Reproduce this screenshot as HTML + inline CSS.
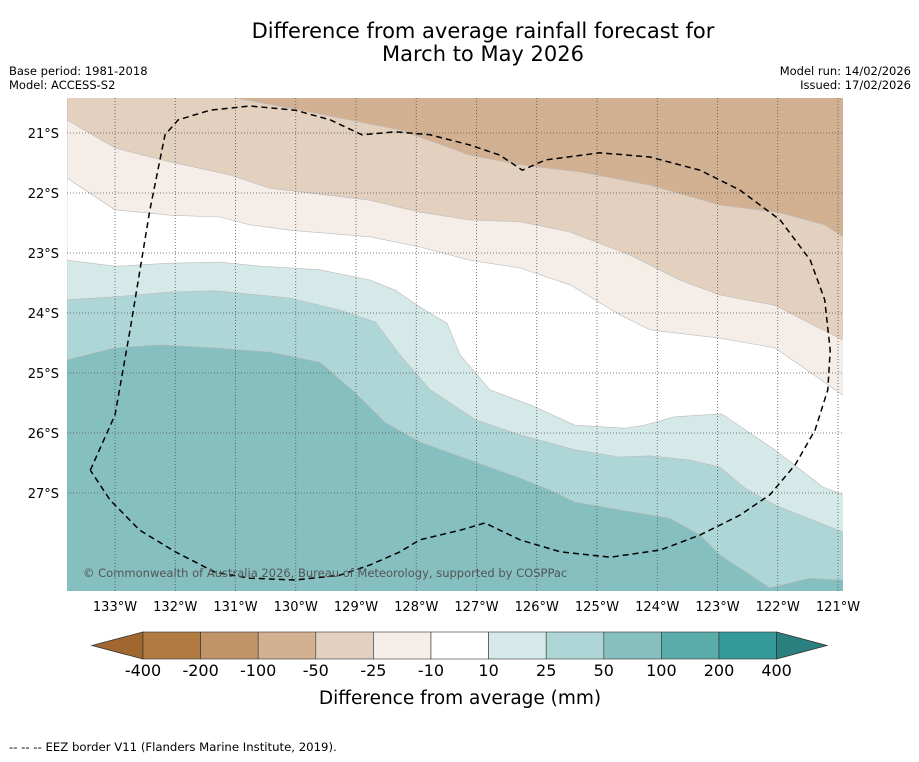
<!DOCTYPE html>
<html><head><meta charset="utf-8"><style>
body{margin:0;background:#fff;width:919px;height:758px;overflow:hidden;font-family:"DejaVu Sans",sans-serif}
</style></head><body>
<svg width="919" height="758" id="chart" font-family="DejaVu Sans, sans-serif">
<text x="483" y="38" text-anchor="middle" font-size="21">Difference from average rainfall forecast for</text>
<text x="483" y="61" text-anchor="middle" font-size="21">March to May 2026</text>
<text x="9" y="75" font-size="11.5">Base period: 1981-2018</text>
<text x="9" y="89" font-size="11.5">Model: ACCESS-S2</text>
<text x="911" y="75" font-size="11.5" text-anchor="end">Model run: 14/02/2026</text>
<text x="911" y="89" font-size="11.5" text-anchor="end">Issued: 17/02/2026</text>
<defs><clipPath id="mapclip"><rect x="67" y="98" width="776" height="493"/></clipPath></defs>
<g id="map" clip-path="url(#mapclip)"></g>
<g id="axes"></g>
<text x="83" y="577" font-size="11.5" fill="#555">© Commonwealth of Australia 2026, Bureau of Meteorology, supported by COSPPac</text>
<g id="cbar"></g>
<text x="460" y="704" text-anchor="middle" font-size="18.5">Difference from average (mm)</text>
<text x="9" y="751" font-size="11.7">--  --  -- EEZ border V11 (Flanders Marine Institute, 2019).</text>
</svg>
<script>
const lonTicks=[133,132,131,130,129,128,127,126,125,124,123,122,121];
const latTicks=[21,22,23,24,25,26,27];
const levels=[-400,-200,-100,-50,-25,-10,10,25,50,100,200,400];
const bandColors=['#b07a40','#c09467','#d2b092','#e3d0bf','#f5ede8','#ffffff','#d5e9e8','#afd6d6','#85bfbf','#5aacab','#35999a'];
// contour boundaries (lon °W, lat °S)
const b1Lon=[130.98,129.93,128.27,127.11,126.28,125.28,124.12,122.96,121.96,121.22,120.92];
const b1Lat=[20.42,20.62,20.95,21.37,21.53,21.65,21.87,22.20,22.33,22.53,22.73];
const b2Lon=[133.80,133,132.09,131.09,130.43,128.77,127.94,127.11,126.28,125.45,124.46,123.63,122.96,122.05,120.92];
const b2Lat=[20.78,21.25,21.48,21.70,21.92,22.12,22.32,22.45,22.48,22.65,23.03,23.45,23.70,23.87,24.45];
const b3Lon=[133.80,133,132.09,131.26,130.76,130.10,128.77,127.94,127.11,126.28,125.45,124.62,124.12,122.96,122.05,121.63,120.92];
const b3Lat=[21.75,22.28,22.37,22.40,22.53,22.62,22.73,22.90,23.12,23.25,23.53,24.03,24.28,24.42,24.58,24.87,25.37];
const b4Lon=[133.80,133,132.09,131.26,130.59,129.60,128.77,128.35,127.94,127.49,127.27,126.78,126.11,125.37,124.54,124.21,123.71,122.93,122.05,121.25,120.92];
const b4Lat=[23.12,23.22,23.17,23.15,23.22,23.28,23.45,23.62,23.90,24.17,24.70,25.28,25.53,25.87,25.92,25.87,25.73,25.68,26.28,26.90,27.03];
const b5Lon=[133.80,133,132.09,131.34,130.10,129.27,128.68,128.27,127.77,127.02,126.28,125.37,124.62,124.12,123.46,122.96,122.54,122.05,120.92];
const b5Lat=[23.78,23.73,23.65,23.63,23.75,23.95,24.15,24.70,25.28,25.78,26.03,26.28,26.40,26.38,26.45,26.57,26.92,27.20,27.65];
const b6Lon=[133.80,133,132.25,131.34,130.43,129.60,129.02,128.52,127.94,127.11,126.28,125.78,125.37,124.62,123.79,123.29,122.96,122.13,121.47,120.92];
const b6Lat=[24.78,24.58,24.53,24.58,24.65,24.82,25.32,25.82,26.15,26.45,26.75,26.95,27.15,27.28,27.42,27.70,28.03,28.58,28.42,28.45];
const eezLon=[133.41,133,132.75,132.42,132.17,131.95,131.42,130.76,130.01,129.43,128.90,128.35,127.77,127.11,126.61,126.24,125.86,124.95,124.12,123.29,122.63,121.96,121.46,121.22,121.13,121.17,121.38,121.71,122.13,122.63,123.29,123.95,124.78,125.61,126.28,126.86,127.27,127.94,128.27,128.77,129.27,130.01,130.76,131.34,132.00,132.59,133.08,133.41];
const eezLat=[26.62,25.70,24.28,22.28,21.03,20.78,20.62,20.55,20.62,20.78,21.03,20.98,21.03,21.20,21.37,21.62,21.45,21.33,21.40,21.62,21.95,22.45,23.12,23.78,24.62,25.28,25.95,26.53,27.03,27.37,27.70,27.95,28.07,27.98,27.78,27.50,27.62,27.78,27.98,28.20,28.37,28.45,28.42,28.32,27.98,27.62,27.12,26.62];
const NS='http://www.w3.org/2000/svg';
const X=lon=>115+(133-lon)*60.25;
const Y=lat=>133+(lat-21)*60;
const map=document.getElementById('map'),axes=document.getElementById('axes'),cb=document.getElementById('cbar');
function mk(tag,attrs,parent){const e=document.createElementNS(NS,tag);for(const k in attrs)e.setAttribute(k,attrs[k]);parent.appendChild(e);return e;}
const bg=mk('rect',{x:67,y:98,width:776,height:493,fill:bandColors[2]},map);


const bounds=[[b1Lon,b1Lat,3],[b2Lon,b2Lat,4],[b3Lon,b3Lat,5],[b4Lon,b4Lat,6],[b5Lon,b5Lat,7],[b6Lon,b6Lat,8]];
bounds.forEach(([lo,la,ci],i)=>{
  let d='M'+lo.map((v,j)=>X(v).toFixed(1)+','+Y(la[j]).toFixed(1)).join(' L');
  d+=' L850,'+Y(la[la.length-1]).toFixed(1)+' L850,600 L60,600 L60,90 L'+X(lo[0]).toFixed(1)+',90 Z';
  const p=mk('path',{d:d,fill:bandColors[ci],stroke:'#bbb','stroke-width':0.6},map);
  
  
});
lonTicks.forEach(l=>{
  const ln=mk('line',{x1:X(l),x2:X(l),y1:98,y2:591,stroke:'#555','stroke-width':0.8,'stroke-dasharray':'1,2'},map);
  
  
  const t=mk('text',{x:X(l),y:611,'text-anchor':'middle','font-size':13},axes);
  t.textContent=l+'°W';
  
  
});
latTicks.forEach(l=>{
  const ln=mk('line',{x1:67,x2:843,y1:Y(l),y2:Y(l),stroke:'#555','stroke-width':0.8,'stroke-dasharray':'1,2'},map);
  
  
  const t=mk('text',{x:59,y:Y(l)+5,'text-anchor':'end','font-size':13},axes);
  t.textContent=l+'°S';
  
  
});
const eez=mk('path',{d:'M'+eezLon.map((v,j)=>X(v).toFixed(1)+','+Y(eezLat[j]).toFixed(1)).join(' L'),fill:'none',stroke:'#000','stroke-width':1.5,'stroke-dasharray':'6,4'},map);


// colorbar
const cx0=143,cw=57.6,cy=632,ch=27;
const lt=mk('polygon',{points:`${cx0},${cy} 92,${cy+ch/2} ${cx0},${cy+ch}`,fill:'#a0682f',stroke:'#333','stroke-width':0.8},cb);


bandColors.forEach((c,i)=>{
  const r=mk('rect',{x:cx0+i*cw,y:cy,width:cw,height:ch,fill:c,stroke:'#333','stroke-width':0.6},cb);
  
  
});
const xe=cx0+bandColors.length*cw;
const rt=mk('polygon',{points:`${xe},${cy} 827,${cy+ch/2} ${xe},${cy+ch}`,fill:'#2a7f7f',stroke:'#333','stroke-width':0.8},cb);


levels.forEach((v,i)=>{
  const t=mk('text',{x:cx0+i*cw,y:676,'text-anchor':'middle','font-size':16},cb);
  t.textContent=v;
  
  
});
</script>
</body></html>
